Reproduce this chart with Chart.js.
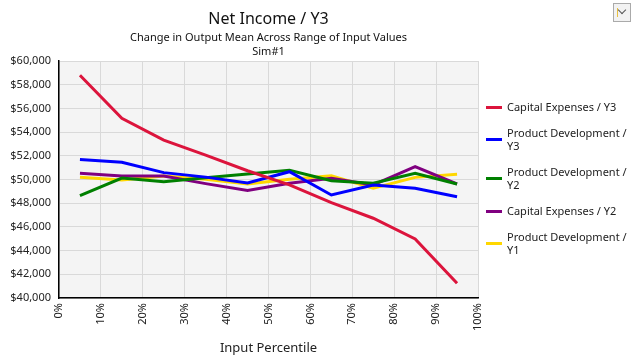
<!DOCTYPE html>
<html>
<head>
<meta charset="utf-8">
<script src="https://cdn.jsdelivr.net/npm/chart.js@4.4.1/dist/chart.umd.min.js"></script>
<style>
  body { margin: 0; background: #fff; font-family: "Noto Sans", sans-serif; }
  #wrap { position: relative; width: 634px; height: 364px; }
  #titles { position: absolute; left: 59px; width: 419px; top: 7px; text-align: center; color: #111; }
  #titles .main { font-size: 16px; line-height: 23px; }
  #titles .sub { font-size: 11px; line-height: 14px; }
  #legend { position: absolute; left: 486px; top: 100px; font-size: 11px; color: #222; }
  .item { position: relative; padding-left: 21px; width: 122px; line-height: 13px; margin-bottom: 13px; }
  .swatch { position: absolute; left: 0; top: 50%; width: 16px; height: 3px; margin-top: -1px; }
  #menu { position: absolute; left: 613px; top: 3px; width: 16px; height: 17px; border: 1px solid #aaa; background: #f2f2f2; }
  #menu .bar { position: absolute; left: 3px; top: 4px; width: 1px; height: 9px; background: #e8c040; }
  #menu .chev { position: absolute; left: 5px; top: 3px; width: 5px; height: 5px; border-right: 1px solid #555; border-bottom: 1px solid #555; transform: rotate(45deg); }
</style>
</head>
<body>
<div id="wrap">
  <canvas id="chart" width="634" height="364"></canvas>
  <div id="titles">
    <div class="main">Net Income / Y3</div>
    <div class="sub">Change in Output Mean Across Range of Input Values</div>
    <div class="sub">Sim#1</div>
  </div>
  <div id="legend"></div>
  <div id="menu"><div class="bar"></div><div class="chev"></div></div>
</div>
<script>
"use strict";
const percentiles = [5, 15, 25, 35, 45, 55, 65, 75, 85, 95];
const seriesNames = [
    "Capital Expenses / Y3",
    "Product Development / Y3",
    "Product Development / Y2",
    "Capital Expenses / Y2",
    "Product Development / Y1"
];
const seriesColors = ["#dc143c", "#0000ff", "#008000", "#800080", "#ffd700"];
const capExY3 = [58800, 55170, 53330, 52050, 50740, 49540, 48040, 46730, 44980, 41240];
const prodDevY3 = [51680, 51450, 50580, 50200, 49700, 50660, 48690, 49540, 49260, 48550];
const prodDevY2 = [48630, 50120, 49820, 50150, 50460, 50780, 49900, 49680, 50520, 49620];
const capExY2 = [50520, 50300, 50300, 49650, 49080, 49680, 50100, 49540, 51090, 49620];
const prodDevY1 = [50180, 49960, 50300, 50020, 49620, 50020, 50320, 49260, 50180, 50440];
const seriesValues = [capExY3, prodDevY3, prodDevY2, capExY2, prodDevY1];

const plotBackground = {
    id: "plotBackground",
    beforeDraw(chart) {
        const a = chart.chartArea;
        const ctx = chart.ctx;
        ctx.save();
        ctx.fillStyle = "#f4f4f4";
        ctx.fillRect(a.left, a.top, a.right - a.left, a.bottom - a.top);
        ctx.restore();
    }
};

const datasets = seriesNames.map((name, i) => ({
    label: name,
    data: percentiles.map((p, j) => ({ x: p, y: seriesValues[i][j] })),
    borderColor: seriesColors[i],
    backgroundColor: seriesColors[i],
    borderWidth: 3,
    pointRadius: 0,
    tension: 0
}));

// html legend so long names wrap like the original
const legend = document.getElementById("legend");
seriesNames.forEach((name, i) => {
    const item = document.createElement("div");
    item.className = "item";
    item.innerHTML = '<span class="swatch" style="background:' + seriesColors[i] + '"></span>' + name;
    legend.appendChild(item);
});

Chart.defaults.font.family = "'Noto Sans', sans-serif";
Chart.defaults.color = "#222";

new Chart(document.getElementById("chart"), {
    type: "line",
    data: { datasets: datasets },
    plugins: [plotBackground],
    options: {
        responsive: false,
        animation: false,
        layout: { padding: { top: 61, right: 156, left: 0, bottom: 0 } },
        plugins: {
            legend: { display: false },
            tooltip: { enabled: false }
        },
        scales: {
            x: {
                type: "linear",
                min: 0,
                max: 100,
                afterFit: (s) => { s.height = 66; },
                border: { color: "#000", width: 1.5 },
                grid: { color: "#d9d9d9", drawTicks: false },
                ticks: {
                    stepSize: 10,
                    minRotation: 90,
                    maxRotation: 90,
                    padding: 5,
                    font: { size: 11 },
                    callback: (v) => v + "%"
                },
                title: {
                    display: true,
                    text: "Input Percentile",
                    font: { size: 13 },
                    padding: { top: 0, bottom: 8 }
                }
            },
            y: {
                min: 40000,
                max: 60000,
                afterFit: (s) => { s.width = 59; },
                border: { color: "#000", width: 1.5 },
                grid: { color: "#d9d9d9", drawTicks: false },
                ticks: {
                    stepSize: 2000,
                    padding: 8,
                    font: { size: 11 },
                    callback: (v) => "$" + v.toLocaleString("en-US")
                }
            }
        }
    }
});
</script>
</body>
</html>
